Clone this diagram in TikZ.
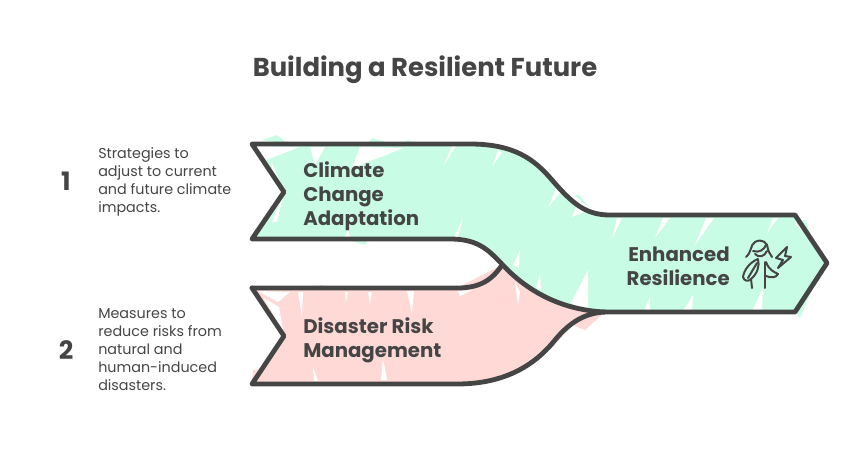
\documentclass[tikz,border=0pt]{standalone}
\usepackage{fontspec}
\setmainfont{Poppins}
\definecolor{ink}{HTML}{454545}
\definecolor{mint}{HTML}{C8FCE5}
\definecolor{blush}{HTML}{FFD9D6}
\begin{document}
\begin{tikzpicture}[
        x=0.75pt, y=-0.75pt,
        outline/.style={draw=ink, line width=3.6pt, line join=round, line cap=round},
        thinline/.style={draw=ink, line width=1.5pt, line join=round, line cap=round},
        title/.style={text=ink, inner sep=0pt, font=\fontsize{19.4}{23}\selectfont\bfseries},
        label/.style={text=ink, inner sep=0pt, anchor=west, align=left, font=\fontsize{14.8}{18}\selectfont\bfseries},
        info/.style={text=ink, inner sep=0pt, anchor=west, align=left, font=\fontsize{10.75}{13.5}\selectfont},
        num/.style={text=ink, inner sep=0pt, font=\fontsize{19}{23}\selectfont\bfseries},
    ]
    \useasboundingbox (0,0) rectangle (850,468);

    \fill[blush] (252,288) -- (457,288) -- (502,265) -- (605,312) -- (585,330) -- (572,325)
        .. controls (535,370) and (505,384) .. (457,384) -- (252,384) -- (284,336) -- cycle;
    \fill[blush] (305,289) -- (322,285) -- (325,290) -- cycle;
    \fill[blush] (253,370) -- (258,369) -- (252,383) -- cycle;

    \fill[mint] (252,144) -- (470,144) .. controls (515,144) and (535,160) .. (552,180)
        .. controls (572,203) and (585,215) .. (610,215) -- (795,215) -- (827,263) -- (795,312)
        -- (605,312) .. controls (560,310) and (525,290) .. (500,262)
        .. controls (488,250) and (478,239) .. (450,239) -- (252,239) -- (284,192) -- cycle;
    \fill[mint] (262,140) -- (277,135) -- (288,144) -- cycle;
    \fill[mint] (368,144) -- (372,138) -- (392,144) -- cycle;
    \fill[mint] (404,144) -- (408,140) -- (418,144) -- cycle;
    \fill[mint] (345,239) -- (365,245) -- (368,239) -- cycle;
    \fill[mint] (575,196) -- (578,194) -- (590,208) -- cycle;
    \fill[mint] (799,222) -- (806,220) -- (812,240) -- cycle;
    \fill[mint] (795,312) -- (800,318) -- (812,290) -- cycle;

    \foreach \ax/\ay/\bx/\by/\cx/\cy in {
        254/146/300/147/266/160, 310/147/325/147/315/165, 360/147/404/148/352/168,
        452/146/456/146/444/165, 498/150/502/152/492/167, 557/186/562/190/548/208,
        577/205/584/212/572/217, 617/218/622/218/612/239, 663/218/670/218/655/238,
        706/218/714/218/695/245, 773/218/778/218/767/233, 795/217/805/232/796/226,
        463/218/453/239/457/240, 348/230/343/240/351/240,
        520/250/513/265/519/268, 540/273/536/288/541/290, 588/270/571/303/588/311,
        650/297/644/311/650/311, 693/295/683/311/692/311, 763/288/752/311/762/311,
        271/160/284/192/275/192, 284/192/272/222/277/222
    }{
        \fill[white] (\ax,\ay) -- (\bx,\by) -- (\cx,\cy) -- cycle;
    }
    \foreach \ax/\ay/\bx/\by/\cx/\cy in {
        298/292/302/317/303/292, 345/292/346/303/348/292, 368/292/370/304/372/292,
        407/291/412/313/414/291, 458/291/472/290/460/296,
        515/282/518/305/520/292, 313/367/314/381/318/381, 383/358/381/380/387/380,
        264/298/279/307/284/335, 258/291/290/292/278/302
    }{
        \fill[white] (\ax,\ay) -- (\bx,\by) -- (\cx,\cy) -- cycle;
    }

    \draw[outline] (252,288) -- (457,288) .. controls (480,288) and (492,280) .. (502,265);
    \draw[outline] (252,288) -- (284,336) -- (252,384) -- (457,384)
        .. controls (505,384) and (535,365) .. (555,340) .. controls (570,322) and (585,313) .. (605,312);
    \draw[outline] (252,144) -- (470,144) .. controls (515,144) and (535,160) .. (552,180)
        .. controls (572,203) and (585,215) .. (610,215) -- (795,215) -- (827,263) -- (795,312)
        -- (605,312) .. controls (560,310) and (525,290) .. (500,262)
        .. controls (488,250) and (478,239) .. (450,239) -- (252,239) -- (284,192) -- cycle;

    \node[title] (heading) at (425,70) {Building a Resilient Future};

    \node[num] (one) at (66,181) {1};
    \node[num] (two) at (66,350) {2};
    \node[info] (infoone) at (98,182) {Strategies to\\adjust to current\\and future climate\\impacts.};
    \node[info] (infotwo) at (98,350) {Measures to\\reduce risks from\\natural and\\human-induced\\disasters.};

    \node[label] (adapt) at (303,196) {Climate\\Change\\Adaptation};
    \node[label] (risk) at (303,340) {Disaster Risk\\Management};
    \node[label, anchor=east, align=right] (resil) at (730,266) {Enhanced\\Resilience};

    % person with leaf
    \draw[thinline] (746,257) .. controls (752,252) and (750,245) .. (755,242)
        .. controls (762,238) and (768,243) .. (768,249) .. controls (769,253) and (771,255) .. (772,257);
    \draw[thinline] (753,251) .. controls (759,253) and (764,250) .. (766,245);
    \draw[thinline] (755,254) .. controls (759,258) and (764,257) .. (767,251);
    \draw[thinline] (758,259) .. controls (750,262) and (744,270) .. (743,277)
        .. controls (744,281) and (748,282) .. (751,279) .. controls (757,274) and (760,266) .. (758,259);
    \draw[thinline] (757,263) -- (748,278);
    \draw[thinline] (751,279) -- (752,288);
    \draw[thinline] (765,262) -- (765,288);
    \draw[thinline] (766,262) .. controls (769,270) and (774,272) .. (778,274)
        .. controls (776,278) and (771,278) .. (766,276);
    \draw[thinline] (787,247) -- (776,258) -- (783,260) -- (778,268) -- (791,257) -- (785,256) -- cycle;
\end{tikzpicture}
\end{document}
